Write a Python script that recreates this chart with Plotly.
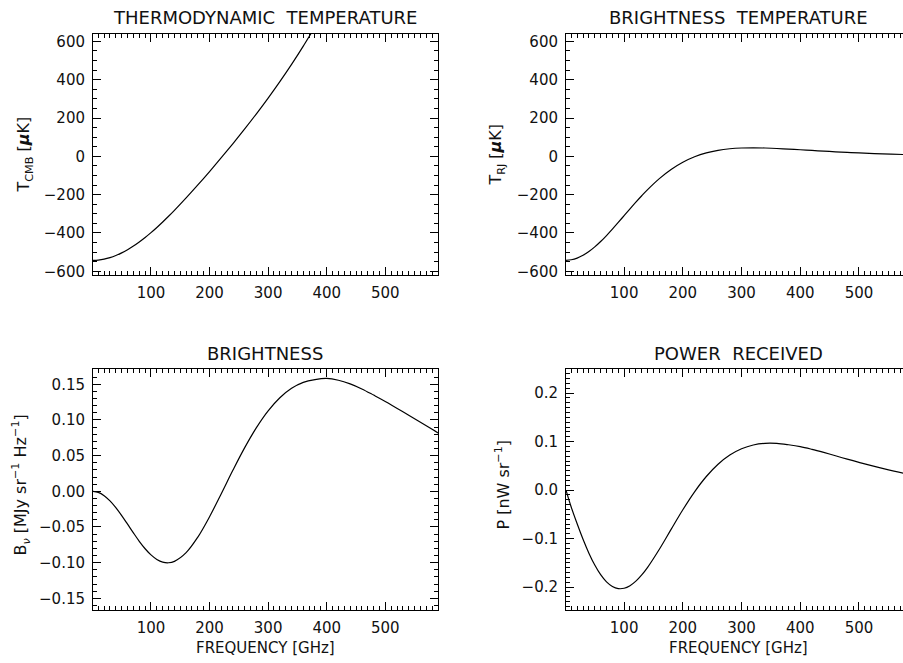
import plotly.graph_objects as go

# ---- data (frequency in GHz) ----
freq_ghz = [1, 10, 20, 30, 40, 50, 60, 70, 80, 90, 100, 110, 120, 130, 140, 160, 180, 200,
            220, 240, 260, 280, 300, 320, 340, 360, 380, 400, 420, 440, 460, 480, 500, 540,
            580, 590]
t_cmb_uk = [-542.9, -541.3, -536.6, -528.7, -517.8, -504.1, -487.6, -468.6, -447.3, -423.8,
            -398.4, -371.4, -342.8, -313.0, -282.0, -217.2, -149.5, -79.4, -7.3, 66.8,
            143.1, 222.0, 304.1, 389.9, 480.1, 575.4, 676.5, 792, 912, 1042, 1183, 1335,
            1506, 1894, 2351, 2470]
t_rj_uk = [-542.9, -539.9, -531.1, -516.6, -496.9, -472.7, -444.6, -413.5, -380.1, -345.2,
           -309.6, -274.2, -239.3, -205.8, -173.9, -116.5, -68.8, -30.9, -2.4, 17.9, 31.4,
           39.5, 43.5, 44.5, 43.4, 40.9, 37.7, 34.3, 30.7, 27.0, 23.6, 20.3, 17.5, 12.7,
           9.0, 8.3]
brightness_mjy = [0.0, -0.00156, -0.00612, -0.01339, -0.02289, -0.03403, -0.04609, -0.05834,
                  -0.07004, -0.08051, -0.08916, -0.09552, -0.09925, -0.10016, -0.09817,
                  -0.08591, -0.06414, -0.03559, -0.00333, 0.02975, 0.06120, 0.08926,
                  0.11278, 0.13122, 0.14447, 0.15278, 0.15663, 0.15820, 0.15570, 0.15060,
                  0.14350, 0.13490, 0.12600, 0.10660, 0.08700, 0.08190]
power_nw = [0.0, -0.03528, -0.06939, -0.10125, -0.12986, -0.15442, -0.17430, -0.18911,
            -0.19865, -0.20298, -0.20231, -0.19704, -0.18767, -0.17481, -0.15911, -0.12183,
            -0.08086, -0.04038, -0.00343, 0.02812, 0.05341, 0.07233, 0.08530, 0.09304,
            0.09641, 0.09630, 0.09353, 0.08972, 0.08409, 0.07767, 0.07079, 0.06379,
            0.05719, 0.04478, 0.03405, 0.03220]

x_tickvals = [100, 200, 300, 400, 500]
x_ticktext = ["100", "200", "300", "400", "500"]
t_tickvals = [-600, -400, -200, 0, 200, 400, 600]
t_ticktext = ["\u2212600", "\u2212400", "\u2212200", "0", "200", "400", "600"]
b_tickvals = [-0.15, -0.10, -0.05, 0.0, 0.05, 0.10, 0.15]
b_ticktext = ["\u22120.15", "\u22120.10", "\u22120.05", "0.00", "0.05", "0.10", "0.15"]
p_tickvals = [-0.2, -0.1, 0.0, 0.1, 0.2]
p_ticktext = ["\u22120.2", "\u22120.1", "0.0", "0.1", "0.2"]

titles = ["THERMODYNAMIC\u00a0\u00a0TEMPERATURE", "BRIGHTNESS\u00a0\u00a0TEMPERATURE",
          "BRIGHTNESS", "POWER\u00a0\u00a0RECEIVED"]
ytitles = ["T<sub>CMB</sub> [<i><b>\u03bc</b></i>K]",
           "T<sub>RJ</sub> [<i><b>\u03bc</b></i>K]",
           "B<sub><i>\u03bd</i></sub> [MJy sr<sup>\u22121</sup> Hz<sup>\u22121</sup>]",
           "P [nW sr<sup>\u22121</sup>]"]
xtitle = "FREQUENCY [GHz]"

W, H = 903, 663
FONT = "DejaVu Sans"
TXT = "#111111"


def px(x):
    return x / W


def py(y):
    return 1 - y / H


fig = go.Figure()
series = [t_cmb_uk, t_rj_uk, brightness_mjy, power_nw]
for i, ys in enumerate(series):
    sfx = "" if i == 0 else str(i + 1)
    fig.add_trace(go.Scatter(x=freq_ghz, y=ys, mode="lines",
                             line=dict(color="black", width=1.2, shape="spline", smoothing=1.0),
                             xaxis="x" + sfx, yaxis="y" + sfx, showlegend=False, hoverinfo="skip"))

left_dom = [px(93), px(438)]
right_dom = [px(566), 1.0]
top_dom = [py(277), py(33)]
bot_dom = [py(615), py(371.7)]

common = dict(showline=True, linecolor="black", linewidth=1, ticks="inside", ticklen=8, tickwidth=1,
              tickcolor="black", showgrid=False, zeroline=False,
              tickfont=dict(family=FONT, size=15, color=TXT), ticklabelstandoff=4)


def xax(dom, anchor, rng, mirror):
    d = dict(common)
    d.update(domain=dom, anchor=anchor, range=rng, tickmode="array", tickvals=x_tickvals, ticktext=x_ticktext,
             mirror=mirror,
             minor=dict(ticks="inside", ticklen=4, tickwidth=1, tickcolor="black", tickmode="linear", tick0=0,
                        dtick=10, showgrid=False))
    return d


def yax(dom, anchor, rng, tv, tt, mdt, mirror):
    d = dict(common)
    d.update(domain=dom, anchor=anchor, range=rng, tickmode="array", tickvals=tv, ticktext=tt, mirror=mirror,
             minor=dict(ticks="inside", ticklen=4, tickwidth=1, tickcolor="black", tickmode="linear", tick0=0,
                        dtick=mdt, showgrid=False))
    return d


layout = dict(
    width=W, height=H, margin=dict(l=0, r=0, t=0, b=0), paper_bgcolor="white", plot_bgcolor="white",
    xaxis=xax(left_dom, "y", [1, 590], "allticks"),
    yaxis=yax(top_dom, "x", [-622, 640], t_tickvals, t_ticktext, 50, "allticks"),
    xaxis2=xax(right_dom, "y2", [1, 575], "allticks"),
    yaxis2=yax(top_dom, "x2", [-622, 640], t_tickvals, t_ticktext, 50, False),
    xaxis3=xax(left_dom, "y3", [1, 590], "allticks"),
    yaxis3=yax(bot_dom, "x3", [-0.167, 0.171], b_tickvals, b_ticktext, 0.01, "allticks"),
    xaxis4=xax(right_dom, "y4", [1, 575], "allticks"),
    yaxis4=yax(bot_dom, "x4", [-0.248, 0.249], p_tickvals, p_ticktext, 0.01, False),
)
fig.update_layout(**layout)

annots = []
title_pos = [(265, 17), (738, 17), (265, 356), (738, 356)]
for t, (cx, cy) in zip(titles, title_pos):
    annots.append(dict(text=t, x=px(cx), y=py(cy), xref="paper", yref="paper", showarrow=False,
                       xanchor="center", yanchor="middle", font=dict(family=FONT, size=18, color=TXT)))
ytitle_pos = [(25, 155), (497, 155), (21, 489), (503, 488)]
for t, (cx, cy) in zip(ytitles, ytitle_pos):
    annots.append(dict(text=t, x=px(cx), y=py(cy), xref="paper", yref="paper", showarrow=False, textangle=-90,
                       xanchor="center", yanchor="middle", font=dict(family=FONT, size=16, color=TXT)))
for cx in (265, 738):
    annots.append(dict(text=xtitle, x=px(cx), y=py(653), xref="paper", yref="paper", showarrow=False,
                       xanchor="center", yanchor="middle", font=dict(family=FONT, size=15, color=TXT)))
fig.update_layout(annotations=annots)

fig.write_html("out.html")
